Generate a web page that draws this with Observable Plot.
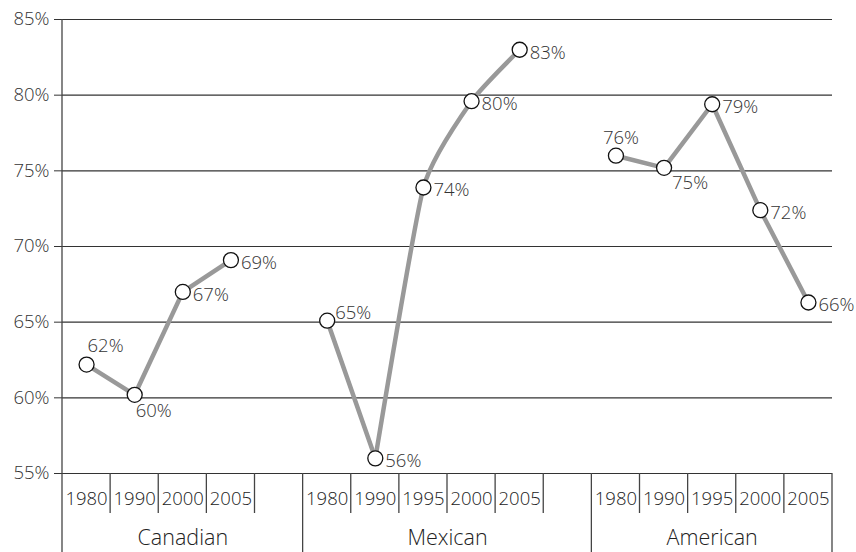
<!DOCTYPE html>
<html><head><meta charset="utf-8">
<script src="https://cdn.jsdelivr.net/npm/d3@7"></script>
<script src="https://cdn.jsdelivr.net/npm/@observablehq/plot@0.6"></script>
<style>
body{margin:0;background:#fff}
#chart svg{display:block}
#chart svg text{font-weight:300}
</style>
</head><body><div id="chart"></div>
<script>
const groups = ["Canadian", "Mexican", "American"];
const canadianYears = ["1980", "1990", "2000", "2005"];
const canadianValues = [62.2, 60.2, 67.0, 69.1];
const mexicanYears = ["1980", "1990", "1995", "2000", "2005"];
const mexicanValues = [65.1, 56.0, 73.9, 79.6, 83.0];
const americanYears = ["1980", "1990", "1995", "2000", "2005"];
const americanValues = [76.0, 75.2, 79.4, 72.4, 66.3];
const yTicks = [55, 60, 65, 70, 75, 80, 85];

// annotation placement per point (default: right of the marker)
const labelPlacement = {
  "Canadian 1980": "n", "Canadian 1990": "s", "Mexican 1980": "ne",
  "American 1980": "nc", "American 1990": "se"
};
const placementStyle = {
  e:  {dx: 10, dy: 3, textAnchor: "start"},
  n:  {dx: 1, dy: -18, textAnchor: "start"},
  s:  {dx: 1, dy: 16, textAnchor: "start"},
  ne: {dx: 8, dy: -8, textAnchor: "start"},
  nc: {dx: 5, dy: -18, textAnchor: "middle"},
  se: {dx: 8, dy: 15, textAnchor: "start"}
};
// series smoothed from this point index on
const smoothFrom = {Mexican: 1};

const seriesYears = [canadianYears, mexicanYears, americanYears];
const seriesValues = [canadianValues, mexicanValues, americanValues];

const rows = [], spans = [];
let slot = 0;
groups.forEach((g, gi) => {
  const start = slot;
  seriesYears[gi].forEach((yr, i) => {
    const key = g + " " + yr;
    rows.push({group: g, year: yr, value: seriesValues[gi][i], i, x: start + i + 0.5,
      place: labelPlacement[key] || "e"});
  });
  slot += seriesYears[gi].length + (gi < groups.length - 1 ? 1 : 0);
  spans.push({name: g, start, end: slot, n: seriesYears[gi].length});
});
const totalSlots = slot;

const font = "'Open Sans', 'DejaVu Sans', sans-serif";

function bottomAxis(index, scales, values, dims) {
  const {x, y} = scales;
  const y0 = y(55);
  const g = d3.create("svg:g").attr("stroke", "#444").attr("stroke-width", 1.3);
  const longB = new Set(spans.map(s => s.start).concat([totalSlots]));
  g.append("line").attr("x1", x(0)).attr("x2", x(0)).attr("y1", y(85)).attr("y2", dims.height);
  for (const b of longB) {
    if (b === 0) continue;
    g.append("line").attr("x1", x(b)).attr("x2", x(b)).attr("y1", y0).attr("y2", dims.height);
  }
  for (const s of spans) {
    for (let k = 1; k <= s.n; k++) {
      const b = s.start + k;
      if (longB.has(b)) continue;
      g.append("line").attr("x1", x(b)).attr("x2", x(b)).attr("y1", y0).attr("y2", y0 + 40);
    }
  }
  return g.node();
}

const labelMarks = Object.entries(placementStyle).map(([p, st]) =>
  Plot.text(rows.filter(d => d.place === p), {
    x: "x", y: "value", text: d => Math.round(d.value) + "%",
    dx: st.dx, dy: st.dy, textAnchor: st.textAnchor,
    fontSize: 18.5, fill: "#333"
  })
);

const linearRows = rows.filter(d => !(d.group in smoothFrom) || d.i <= smoothFrom[d.group]);
const smoothRows = rows.filter(d => (d.group in smoothFrom) && d.i >= smoothFrom[d.group]);

const chart = Plot.plot({
  width: 856, height: 552,
  marginLeft: 62, marginRight: 24, marginTop: 19, marginBottom: 79,
  style: {fontFamily: font, fontSize: "18.5px", color: "#333", background: "#fff"},
  x: {domain: [0, totalSlots], axis: null},
  y: {domain: [55, 85], ticks: yTicks, tickFormat: d => d + "%", tickSize: 8, tickPadding: 5, label: null},
  marks: [
    Plot.ruleY(yTicks, {stroke: "#333", strokeWidth: 1.2}),
    bottomAxis,
    Plot.text(rows, {x: "x", y: 55, text: "year", dy: 26, fontSize: 18.5, fill: "#222"}),
    Plot.text(spans, {x: d => (d.start + d.end) / 2, y: 55, text: "name", dy: 65, fontSize: 21.5, fill: "#222"}),
    Plot.line(linearRows, {x: "x", y: "value", z: "group", stroke: "#999", strokeWidth: 4.5}),
    Plot.line(smoothRows, {x: "x", y: "value", z: "group", stroke: "#999", strokeWidth: 4.5, curve: "cardinal", tension: 0.5}),
    Plot.dot(rows, {x: "x", y: "value", r: 7.5, fill: "white", stroke: "#111", strokeWidth: 1.3}),
    ...labelMarks
  ]
});
document.getElementById("chart").append(chart);
</script>
</body></html>
